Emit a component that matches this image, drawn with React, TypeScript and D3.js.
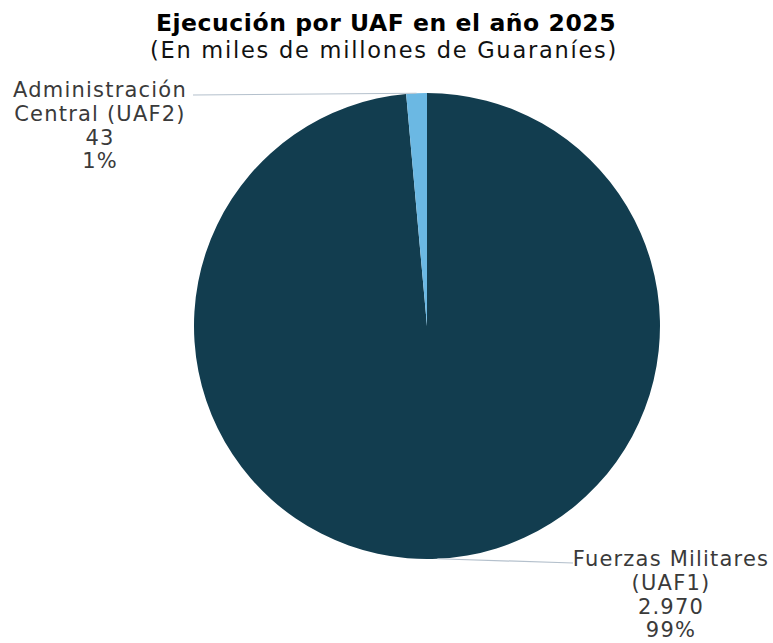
import React from "react";
import * as d3 from "d3";

const categories = ["Fuerzas Militares (UAF1)", "Administración Central (UAF2)"];
const values = [2970, 43];
const valueLabels = ["2.970", "43"];
const percentLabels = ["99%", "1%"];
const labelLines = [["Fuerzas Militares", "(UAF1)"], ["Administración", "Central (UAF2)"]];
const colors = ["#123d4f", "#6bb8e3"];

const W = 773, H = 643;
const cx = 427, cy = 326, R = 233;
const FONT = "'DejaVu Sans', sans-serif";

export default function App() {
  const pie = d3.pie<number>().sort(null).startAngle(0).endAngle(2 * Math.PI);
  const arcs = pie(values);
  const arc = d3.arc<d3.PieArcDatum<number>>().innerRadius(0).outerRadius(R);
  const labelPos = [
    { x: 671, y: 566, lx: 573, ly: 563 },
    { x: 100, y: 97, lx: 193, ly: 95 },
  ];
  return (
    <svg width={W} height={H} style={{ position: "absolute", left: 0, top: 0, background: "#fff" }}>
      <text x={386} y={31} textAnchor="middle" fontFamily={FONT} fontWeight={700} fontSize={23.5} letterSpacing={0.55} fill="#000">
        Ejecución por UAF en el año 2025
      </text>
      <text x={384} y={58} textAnchor="middle" fontFamily={FONT} fontWeight={400} fontSize={22.5} letterSpacing={1.75} fill="#111">
        (En miles de millones de Guaraníes)
      </text>
      <g transform={`translate(${cx},${cy})`}>
        {arcs.map((a, i) => (
          <path key={i} d={arc(a) || ""} fill={colors[i]} />
        ))}
      </g>
      {arcs.map((a, i) => {
        const mid = (a.startAngle + a.endAngle) / 2;
        const px = cx + R * Math.sin(mid);
        const py = cy - R * Math.cos(mid);
        const lp = labelPos[i];
        const lines = [...labelLines[i], valueLabels[i], percentLabels[i]];
        return (
          <g key={"l" + i}>
            <line x1={px} y1={py} x2={lp.lx} y2={lp.ly} stroke="#b4c0cc" strokeWidth={1.2} />
            <text textAnchor="middle" fontFamily={FONT} fontWeight={400} fontSize={21} letterSpacing={1.2} fill="#3a3a3a">
              {lines.map((t, j) => (
                <tspan key={j} x={lp.x} y={lp.y + j * 23.8}>{t}</tspan>
              ))}
            </text>
          </g>
        );
      })}
    </svg>
  );
}
